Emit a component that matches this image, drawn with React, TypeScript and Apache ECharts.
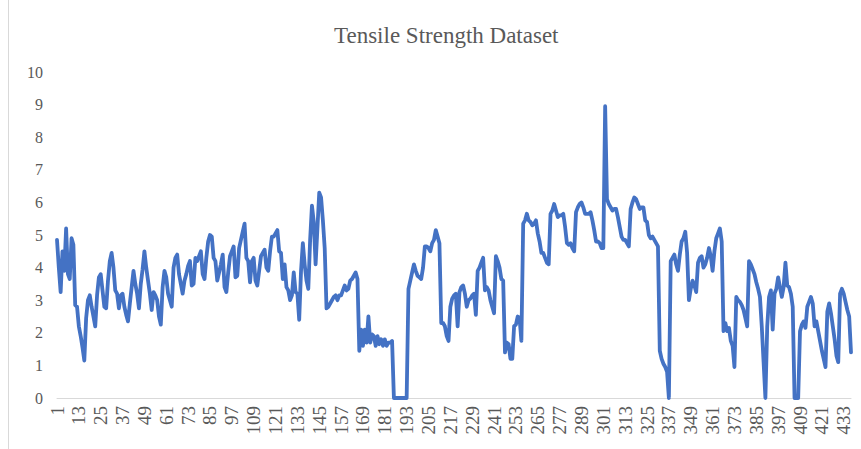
import React, { useEffect, useRef } from "react";
import * as echarts from "echarts";

const chartTitle = "Tensile Strength Dataset";
const yMin = 0;
const yMax = 10;
const yStep = 1;

// Tensile strength readings, rows of 12 samples (1-12, 13-24, ...)
const strength: number[] = [
  4.85, 4.0, 3.25, 4.5, 3.9, 5.2, 3.8, 3.65, 4.9, 4.7, 2.85, 2.8,
  2.2, 1.9, 1.55, 1.15, 2.45, 3.0, 3.15, 2.8, 2.5, 2.2, 3.15, 3.7,
  3.8, 3.3, 2.8, 2.75, 3.6, 4.2, 4.45, 4.0, 3.3, 3.2, 2.75, 3.15,
  3.2, 2.8, 2.55, 2.35, 2.9, 3.4, 3.9, 3.5, 3.2, 2.75, 3.5, 3.95,
  4.5, 4.0, 3.6, 3.2, 2.7, 3.25, 3.15, 3.0, 2.5, 2.25, 3.4, 3.9,
  3.7, 3.2, 3.0, 2.8, 4.0, 4.3, 4.4, 3.8, 3.5, 3.2, 3.6, 3.8,
  4.05, 4.2, 3.45, 3.5, 4.3, 4.2, 4.35, 4.5, 3.8, 3.65, 4.3, 4.8,
  5.0, 4.95, 4.3, 4.2, 3.6, 3.85, 4.1, 4.4, 3.4, 3.25, 3.85, 4.35,
  4.5, 4.65, 3.7, 3.75, 4.6, 4.85, 5.1, 5.35, 4.3, 4.2, 3.55, 4.2,
  4.3, 3.6, 3.45, 3.9, 4.35, 4.45, 4.55, 4.0, 3.9, 4.5, 4.95, 4.95,
  5.05, 5.15, 4.5, 4.45, 3.65, 4.1, 3.4, 3.3, 3.0, 3.15, 3.85, 3.25,
  3.2, 2.4, 3.9, 4.75, 4.1, 3.6, 3.35, 4.85, 5.9, 5.4, 4.1, 5.2,
  6.3, 6.15, 5.45, 4.6, 2.75, 2.8, 2.9, 3.0, 3.1, 3.15, 3.0, 3.15,
  3.15, 3.3, 3.45, 3.3, 3.35, 3.6, 3.65, 3.75, 3.85, 3.65, 1.45, 2.1,
  1.6, 2.1, 1.7, 2.5, 1.7, 1.95, 1.9, 1.6, 1.9, 1.65, 1.8, 1.6,
  1.8, 1.6, 1.7, 1.7, 1.75, 0, 0, 0, 0, 0, 0, 0,
  0, 3.35, 3.6, 3.85, 4.1, 3.9, 3.75, 3.7, 3.65, 4.0, 4.65, 4.65,
  4.6, 4.5, 4.75, 4.85, 5.15, 4.95, 4.75, 2.3, 2.3, 2.2, 1.9, 1.75,
  2.8, 3.05, 3.15, 3.2, 2.2, 3.25, 3.4, 3.45, 3.2, 2.8, 3.0, 3.05,
  3.15, 3.2, 2.55, 3.9, 4.0, 4.15, 4.3, 3.3, 3.4, 3.3, 3.0, 2.8,
  2.6, 4.35, 4.2, 4.0, 3.65, 3.6, 1.4, 1.7, 1.65, 1.2, 1.2, 2.2,
  2.25, 2.5, 2.45, 1.75, 5.35, 5.45, 5.65, 5.45, 5.4, 5.3, 5.35, 5.45,
  5.05, 4.8, 4.45, 4.45, 4.3, 4.15, 4.1, 5.65, 5.75, 5.95, 5.75, 5.55,
  5.6, 5.6, 5.65, 5.25, 4.75, 4.7, 4.75, 4.6, 4.5, 5.7, 5.85, 5.95,
  6.0, 5.85, 5.65, 5.65, 5.65, 5.7, 5.45, 5.15, 4.8, 4.8, 4.75, 4.6,
  4.6, 8.95, 6.1, 5.95, 5.85, 5.75, 5.8, 5.8, 5.55, 5.25, 4.95, 4.85,
  4.85, 4.75, 4.65, 5.8, 6.0, 6.15, 6.1, 5.95, 5.8, 5.85, 5.85, 5.45,
  5.4, 5.0, 4.9, 4.95, 4.85, 4.75, 4.65, 1.45, 1.2, 1.05, 0.95, 0.8,
  0, 4.2, 4.3, 4.4, 4.1, 3.9, 4.4, 4.8, 4.9, 5.1, 4.45, 3.0,
  3.35, 3.6, 3.45, 3.25, 4.15, 4.3, 4.35, 4.0, 4.1, 4.3, 4.6, 4.35,
  3.9, 4.5, 4.9, 5.05, 5.2, 4.8, 2.05, 2.3, 2.05, 2.15, 1.75, 1.6,
  0.95, 3.1, 3.0, 2.95, 2.85, 2.7, 2.45, 2.2, 4.2, 4.1, 3.95, 3.8,
  3.55, 3.35, 3.1, 2.2, 1.1, 0, 2.2, 3.1, 3.3, 2.1, 3.2, 3.35,
  3.7, 3.4, 3.1, 3.4, 4.15, 3.45, 3.4, 3.2, 2.8, 0, 0, 0,
  2.05, 2.25, 2.35, 2.15, 2.8, 2.95, 3.1, 2.9, 2.2, 2.35, 2.05, 1.75,
  1.45, 1.2, 0.95, 2.65, 2.9, 2.6, 2.2, 1.8, 1.3, 1.1, 3.2, 3.35,
  3.2, 2.95, 2.7, 2.5, 1.4,
];

const sampleLabels: string[] = strength.map((_, i) => String(i + 1));

const FONT = "'Liberation Serif', 'Times New Roman', serif";
const TEXT = "#595959";

export default function App() {
  const ref = useRef<HTMLDivElement>(null);
  useEffect(() => {
    if (!ref.current) return;
    const chart = echarts.init(ref.current, undefined, { renderer: "svg" });
    chart.setOption({
      animation: false,
      backgroundColor: "#ffffff",
      title: {
        text: chartTitle,
        left: 329,
        top: 19,
        textStyle: { fontFamily: FONT, fontSize: 23, fontWeight: "normal", color: TEXT },
      },
      grid: { left: 57, right: 10, top: 72, bottom: 51, containLabel: false },
      xAxis: {
        type: "category",
        data: sampleLabels,
        boundaryGap: false,
        axisLine: { show: true, lineStyle: { color: "#d9d9d9", width: 1 } },
        axisTick: { show: false },
        splitLine: { show: false },
        axisLabel: {
          interval: 11,
          rotate: 90,
          color: TEXT,
          fontFamily: FONT,
          fontSize: 19,
          margin: 8,
        },
      },
      yAxis: {
        type: "value",
        min: yMin,
        max: yMax,
        interval: yStep,
        axisLine: { show: false },
        axisTick: { show: false },
        splitLine: { show: false },
        axisLabel: { color: TEXT, fontFamily: FONT, fontSize: 16, margin: 14 },
      },
      series: [
        {
          type: "line",
          data: strength,
          showSymbol: false,
          symbol: "none",
          lineStyle: { color: "#4472C4", width: 3.8, join: "round", cap: "round" },
          itemStyle: { color: "#4472C4" },
        },
      ],
      graphic: [
        {
          type: "line",
          shape: { x1: 8.5, y1: 0, x2: 8.5, y2: 449 },
          style: { stroke: "#d9d9d9", lineWidth: 1 },
        },
      ],
    });
    return () => chart.dispose();
  }, []);
  return (
    <div
      ref={ref}
      style={{ position: "absolute", left: 0, top: 0, width: 861, height: 449 }}
    />
  );
}
